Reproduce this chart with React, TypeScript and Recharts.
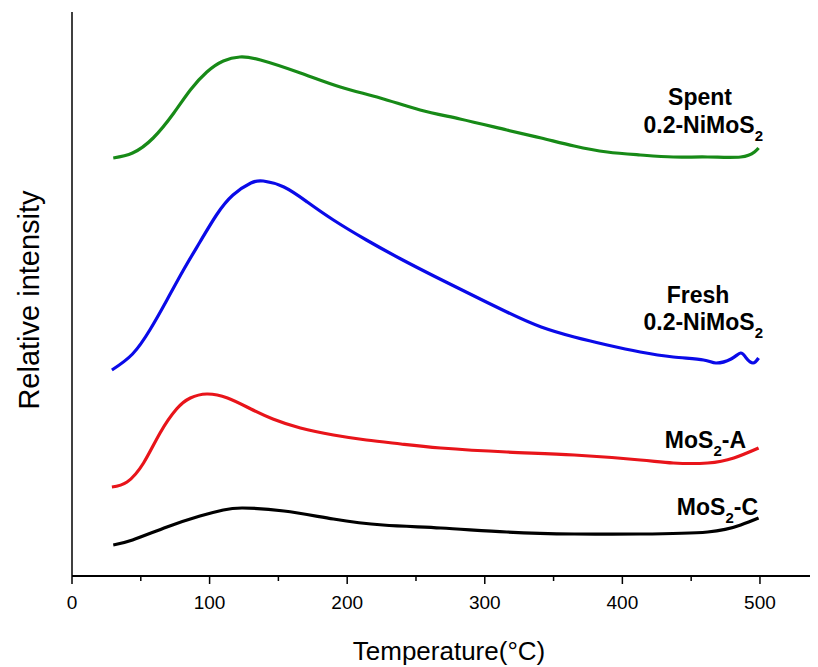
import React from 'react';
import { LineChart, Line, XAxis, YAxis } from 'recharts';

const spentTemp = [30, 44, 59, 74, 86, 98, 110, 122, 137, 166, 195, 224, 253, 282, 316, 341, 365, 389, 413, 437, 462, 486, 496, 499];
const spentIntensity = [418, 423, 438, 463, 486, 504, 515, 519, 516, 503, 489, 478, 466, 457, 446, 438, 430, 424, 421, 419, 419, 419, 424, 428];

const freshTemp = [29, 44, 57, 69, 81, 93, 105, 117, 130, 139, 154, 171, 190, 214, 239, 263, 282, 316, 341, 365, 389, 413, 437, 459, 468, 479, 486, 490, 495, 499];
const freshIntensity = [206, 222, 247, 276, 306, 334, 361, 381, 393, 395, 389, 374, 356, 336, 317, 300, 287, 264, 249, 239, 231, 224, 219, 216, 213, 217, 223, 218, 213, 218];

const mosATemp = [29, 40, 52, 64, 76, 86, 98, 113, 130, 146, 166, 190, 214, 239, 268, 316, 365, 413, 437, 462, 481, 499];
const mosAIntensity = [89, 94, 113, 143, 167, 178, 182, 178, 167, 157, 148, 141, 136, 132, 128, 124, 121, 116, 113, 113, 118, 128];

const mosCTemp = [30, 44, 69, 93, 110, 124, 154, 190, 226, 268, 316, 365, 413, 462, 486, 499];
const mosCIntensity = [31, 36, 49, 60, 66, 68, 65, 57, 51, 48, 44, 42, 42, 44, 51, 58];

const xTicks = [0, 50, 100, 150, 200, 250, 300, 350, 400, 450, 500];

const toRows = (t: number[], v: number[]) => t.map((x, i) => ({ t: x, v: v[i] }));

const series = [
    { name: 'Spent 0.2-NiMoS2', color: '#178a17', data: toRows(spentTemp, spentIntensity) },
    { name: 'Fresh 0.2-NiMoS2', color: '#0a0ae8', data: toRows(freshTemp, freshIntensity) },
    { name: 'MoS2-A', color: '#e8141a', data: toRows(mosATemp, mosAIntensity) },
    { name: 'MoS2-C', color: '#000000', data: toRows(mosCTemp, mosCIntensity) },
];

const FONT = '"Liberation Sans", Arial, sans-serif';

const XTick = (props: any) => {
    const { x, y, payload } = props;
    const major = payload.value % 100 === 0;
    return (
        <g>
            <line x1={x} y1={y} x2={x} y2={y + (major ? 8 : 5)} stroke="#000" strokeWidth={1.5} />
            {major && (
                <text x={x} y={y + 33} textAnchor="middle" fontSize={19} fontFamily={FONT} fill="#000">
                    {payload.value}
                </text>
            )}
        </g>
    );
};

// bold sample name, right aligned, with a subscript 2
const Tag = ({ x, y, main, sub, tail }: { x: number; y: number; main: string; sub: string; tail?: string }) => (
    <text x={x} y={y} textAnchor="end" fontFamily={FONT} fontWeight="bold" fontSize={23} fill="#000">
        {main}
        <tspan fontSize={15} dy={8}>{sub}</tspan>
        {tail && <tspan dy={-8}>{tail}</tspan>}
    </text>
);

export default function App() {
    return (
        <div style={{ position: 'relative', width: 810, height: 659 }}>
            <LineChart width={810} height={659} margin={{ top: 4, right: 3, left: 0, bottom: 0 }}>
                <XAxis
                    type="number"
                    dataKey="t"
                    domain={[0, 540]}
                    ticks={xTicks}
                    tick={<XTick />}
                    tickLine={false}
                    tickSize={0}
                    tickMargin={0}
                    height={91}
                    axisLine={{ stroke: '#000', strokeWidth: 2 }}
                    allowDataOverflow
                />
                <YAxis
                    type="number"
                    domain={[0, 564]}
                    width={64}
                    tick={false}
                    tickLine={false}
                    axisLine={{ stroke: '#000', strokeWidth: 1.5 }}
                />
                {series.map(s => (
                    <Line
                        key={s.name}
                        data={s.data}
                        dataKey="v"
                        type="natural"
                        stroke={s.color}
                        strokeWidth={3.2}
                        dot={false}
                        isAnimationActive={false}
                    />
                ))}
            </LineChart>
            <svg width={810} height={659} style={{ position: 'absolute', left: 0, top: 0, pointerEvents: 'none' }}>
                <text x={441} y={652} textAnchor="middle" fontSize={26} fontFamily={FONT} fill="#000">
                    Temperature(°C)
                </text>
                <text
                    transform="translate(31, 292) rotate(-90)"
                    textAnchor="middle"
                    fontSize={29}
                    fontFamily={FONT}
                    fill="#000"
                >
                    Relative intensity
                </text>
                <text x={692} y={97} textAnchor="middle" fontSize={23} fontWeight="bold" fontFamily={FONT} fill="#000">Spent</text>
                <Tag x={755} y={125} main="0.2-NiMoS" sub="2" />
                <text x={690} y={295} textAnchor="middle" fontSize={23} fontWeight="bold" fontFamily={FONT} fill="#000">Fresh</text>
                <Tag x={755} y={322} main="0.2-NiMoS" sub="2" />
                <Tag x={738} y={440} main="MoS" sub="2" tail="-A" />
                <Tag x={750} y={507} main="MoS" sub="2" tail="-C" />
            </svg>
        </div>
    );
}
